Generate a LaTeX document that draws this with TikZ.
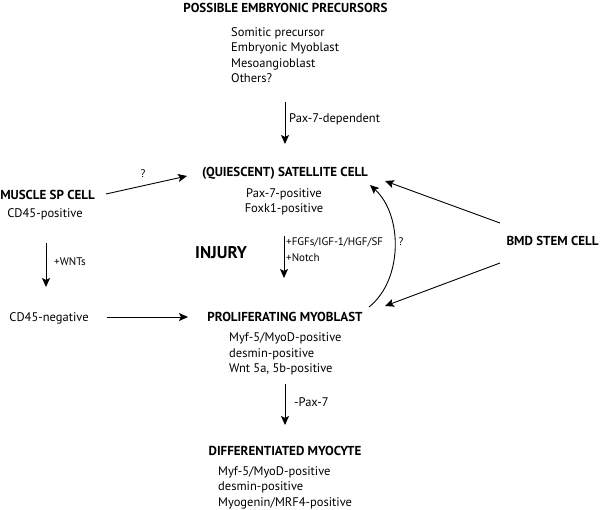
\documentclass[tikz,border=0pt]{standalone}
\usepackage{fontspec}
\setmainfont{PT Sans}
\usetikzlibrary{arrows.meta}
\tikzstyle{title}=[font=\bfseries\fontsize{13}{15}\selectfont,anchor=base,inner sep=0pt]
\tikzstyle{list}=[font=\fontsize{12.5}{15.4}\selectfont,anchor=base west,align=left,inner sep=0pt]
\tikzstyle{note}=[font=\fontsize{11}{16}\selectfont,anchor=base west,align=left,inner sep=0pt]

\begin{document}
\begin{tikzpicture}[x=1pt, y=-1pt]
\tikzstyle{arr}=[-{Stealth[length=9pt,width=8pt,inset=2pt]}, line width=0.9pt]
\useasboundingbox (0,0) rectangle (600,509);
  % cell names
  \node[title] (embryo) at (285.5,12) {POSSIBLE EMBRYONIC PRECURSORS};
  \node[title] (satellite) at (285,176.5) {(QUIESCENT) SATELLITE CELL};
  \node[title] (musclesp) at (47.5,199.5) {MUSCLE SP CELL};
  \node[title] (bmd) at (552.5,245.5) {BMD STEM CELL};
  \node[title] (prolif) at (285,321.5) {PROLIFERATING MYOBLAST};
  \node[title] (myocyte) at (285,455.5) {DIFFERENTIATED MYOCYTE};
  \node[title, font=\bfseries\fontsize{17}{19}\selectfont] (injury) at (221,258) {INJURY};
  % markers (base = last line)
  \node[list] (embryolist) at (231,82.4) {Somitic precursor\\Embryonic Myoblast\\Mesoangioblast\\Others?};
  \node[list, anchor=base, align=center] (satlist) at (284,212.5) {Pax-7-positive\\Foxk1-positive};
  \node[list, anchor=base] (cdpos) at (45,217.5) {CD45-positive};
  \node[list, anchor=base] (cdneg) at (49,321.5) {CD45-negative};
  \node[list] (proliflist) at (229,372.5) {Myf-5/MyoD-positive\\desmin-positive\\Wnt 5a, 5b-positive};
  \node[list] (myolist) at (218,506.3) {Myf-5/MyoD-positive\\desmin-positive\\Myogenin/MRF4-positive};
  % arrow labels
  \node[list] (lpax) at (289,122.5) {Pax-7-dependent};
  \node[note] (lwnt) at (54,265) {+WNTs};
  \node[note] (lfgf) at (286,261.5) {+FGFs/IGF-1/HGF/SF\\+Notch};
  \node[list] (lminus) at (294,406.5) {-Pax-7};
  \node[note, anchor=base] (lq1) at (143,177.5) {?};
  \node[note, anchor=base] (lq2) at (401,245.5) {?};
  % arrow ends
  \coordinate (a1) at (285,102);  \coordinate (a2) at (285,144);
  \coordinate (b1) at (106,194);  \coordinate (b2) at (187,176);
  \coordinate (c1) at (46,243);   \coordinate (c2) at (46,287);
  \coordinate (d1) at (107,317);  \coordinate (d2) at (188,317);
  \coordinate (f1) at (284,236);  \coordinate (f2) at (284,278);
  \coordinate (g1) at (500,223);  \coordinate (g2) at (385,181);
  \coordinate (h1) at (500,263);  \coordinate (h2) at (385,306);
  \coordinate (k1) at (285,384);  \coordinate (k2) at (285,425);
  \coordinate (r1) at (369,307);  \coordinate (r2) at (370,185);
  \draw[arr] (a1) -- (a2);
  \draw[arr] (b1) -- (b2);
  \draw[arr] (c1) -- (c2);
  \draw[arr] (d1) -- (d2);
  \draw[arr] (f1) -- (f2);
  \draw[arr] (g1) -- (g2);
  \draw[arr] (h1) -- (h2);
  \draw[arr] (k1) -- (k2);
  \draw[arr] (r1) .. controls (403,280) and (403,215) .. (r2);
\end{tikzpicture}
\end{document}
